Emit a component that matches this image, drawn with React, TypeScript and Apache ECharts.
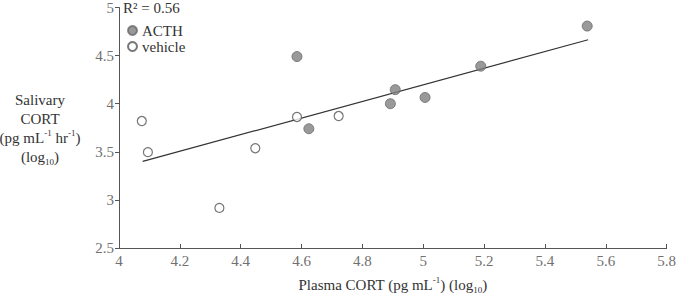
import React, { useEffect, useRef } from "react";
import * as echarts from "echarts";

const acthPoints: [number, number][] = [
  [4.585, 4.49],
  [4.624, 3.74],
  [4.892, 4.0],
  [4.908, 4.146],
  [5.006, 4.065],
  [5.189, 4.39],
  [5.539, 4.807],
];
const vehiclePoints: [number, number][] = [
  [4.075, 3.82],
  [4.095, 3.496],
  [4.33, 2.917],
  [4.448, 3.537],
  [4.585, 3.862],
  [4.722, 3.872],
];
const fitLine: [number, number][] = [
  [4.078, 3.4],
  [5.542, 4.665],
];
const rSquaredText = "R² = 0.56";

const FONT = "Liberation Serif";

export default function App() {
  const ref = useRef<HTMLDivElement>(null);
  useEffect(() => {
    document.body.style.margin = "0";
    if (!ref.current) return;
    const chart = echarts.init(ref.current, null, { renderer: "svg" });
    const supStyle = { fontSize: 9, fontFamily: FONT, verticalAlign: "top", color: "#333", align: "center" };
    const subStyle = { fontSize: 9, fontFamily: FONT, verticalAlign: "bottom", color: "#333", align: "center" };
    chart.setOption({
      animation: false,
      grid: { left: 119, right: 9, top: 7, bottom: 46 },
      xAxis: {
        type: "value",
        min: 4,
        max: 5.8,
        interval: 0.2,
        splitLine: { show: false },
        axisLine: { lineStyle: { color: "#555", width: 1 } },
        axisTick: { inside: true, length: 4, lineStyle: { color: "#555" } },
        axisLabel: { color: "#707070", fontFamily: FONT, fontSize: 15, margin: 5 },
        name: "Plasma CORT (pg mL{sup|-1}) (log{sub|10})",
        nameLocation: "middle",
        nameGap: 27,
        nameTextStyle: {
          color: "#333",
          fontFamily: FONT,
          fontSize: 15,
          lineHeight: 19,
          rich: { sup: supStyle, sub: subStyle },
        },
      },
      yAxis: {
        type: "value",
        min: 2.5,
        max: 5,
        interval: 0.5,
        splitLine: { show: false },
        axisLine: { show: true, lineStyle: { color: "#555", width: 1 } },
        axisTick: { show: true, inside: false, length: 4, lineStyle: { color: "#555" } },
        axisLabel: { color: "#707070", fontFamily: FONT, fontSize: 15, margin: 5 },
      },
      legend: {
        data: ["ACTH", "vehicle"],
        orient: "vertical",
        left: 127,
        top: 23,
        padding: 0,
        itemGap: 1,
        itemWidth: 9,
        itemHeight: 9,
        textStyle: { color: "#333", fontFamily: FONT, fontSize: 15, lineHeight: 15 },
      },
      graphic: [
        {
          type: "text",
          left: 123,
          top: 0,
          style: {
            text: rSquaredText,
            fill: "#333",
            font: `15px "${FONT}"`,
          },
        },
        {
          type: "text",
          x: 40,
          y: 128,
          style: {
            text: "Salivary\nCORT\n(pg mL{sup|-1} hr{sup|-1})\n(log{sub|10})",
            fill: "#333",
            font: `15px "${FONT}"`,
            fontSize: 15,
            fontFamily: FONT,
            lineHeight: 19,
            align: "center",
            textAlign: "center",
            verticalAlign: "middle",
            textVerticalAlign: "middle",
            rich: { sup: supStyle, sub: subStyle },
          },
        },
      ],
      series: [
        {
          name: "fit",
          type: "line",
          data: fitLine,
          showSymbol: false,
          symbol: "none",
          lineStyle: { color: "#333", width: 1.2 },
          silent: true,
          z: 1,
        },
        {
          name: "ACTH",
          type: "scatter",
          data: acthPoints,
          symbol: "circle",
          symbolSize: 10,
          itemStyle: { color: "#808080", borderColor: "#6a6a6a", borderWidth: 1 },
          z: 3,
        },
        {
          name: "vehicle",
          type: "scatter",
          data: vehiclePoints,
          symbol: "circle",
          symbolSize: 9,
          itemStyle: { color: "#ffffff", borderColor: "#555", borderWidth: 1.2 },
          z: 3,
        },
      ],
    });
    return () => chart.dispose();
  }, []);
  return <div ref={ref} style={{ width: 679, height: 299 }} />;
}
